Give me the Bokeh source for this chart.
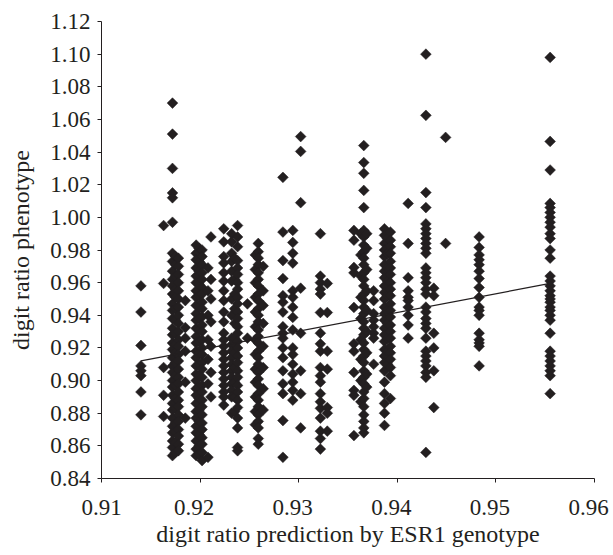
from bokeh.plotting import figure
from bokeh.models import Range1d, FixedTicker, PrintfTickFormatter, LinearAxis
from bokeh.embed import file_html
from bokeh.resources import INLINE
import numpy as np

# ---------------- data ----------------
x_ticks = [0.91, 0.92, 0.93, 0.94, 0.95, 0.96]
y_ticks = [0.84, 0.86, 0.88, 0.90, 0.92, 0.94, 0.96, 0.98, 1.00, 1.02, 1.04, 1.06, 1.08, 1.10, 1.12]

col_09140 = [0.958, 0.942, 0.9215, 0.909, 0.906, 0.903, 0.893, 0.879]
col_09163 = [0.995, 0.9595, 0.908, 0.891, 0.878]
col_09172 = [1.070, 1.051, 1.030, 1.015, 1.012, 0.997, 0.978, 0.973, 0.967, 0.962, 0.958, 0.953,
             0.947, 0.943, 0.938, 0.932, 0.928, 0.923, 0.919, 0.914, 0.909, 0.905, 0.900, 0.896,
             0.891, 0.886, 0.882, 0.877, 0.872, 0.868, 0.863, 0.859, 0.854]
col_09175 = [0.976, 0.971, 0.964, 0.956, 0.951, 0.944, 0.937, 0.929, 0.922, 0.917, 0.911, 0.903,
             0.897, 0.889, 0.883, 0.874, 0.869, 0.862, 0.856]
col_09178 = [0.975, 0.970, 0.965, 0.960, 0.955, 0.950, 0.945, 0.940, 0.935, 0.930, 0.925, 0.921,
             0.916, 0.912, 0.907, 0.902, 0.898, 0.893, 0.888, 0.884, 0.879, 0.875, 0.870, 0.866,
             0.861, 0.857]
col_09185 = [0.949, 0.9325, 0.926, 0.918, 0.899, 0.877]
col_09196 = [0.983, 0.978, 0.974, 0.969, 0.964, 0.960, 0.955, 0.951, 0.946, 0.941, 0.937, 0.932,
             0.927, 0.923, 0.918, 0.914, 0.909, 0.904, 0.900, 0.895, 0.891, 0.886, 0.881, 0.877,
             0.872, 0.868, 0.863, 0.858, 0.854]
col_09199 = [0.981, 0.973, 0.967, 0.959, 0.952, 0.945, 0.938, 0.931, 0.924, 0.917, 0.910, 0.903,
             0.896, 0.889, 0.882, 0.875, 0.867, 0.860, 0.855]
col_09202 = [0.980, 0.976, 0.971, 0.966, 0.962, 0.957, 0.953, 0.948, 0.944, 0.939, 0.934, 0.930,
             0.925, 0.920, 0.916, 0.911, 0.907, 0.902, 0.897, 0.893, 0.888, 0.884, 0.879, 0.874,
             0.870, 0.865, 0.861, 0.856, 0.851]
col_09208 = [0.969, 0.955, 0.940, 0.925, 0.913, 0.898, 0.853]
col_09211 = [0.988, 0.962, 0.950, 0.936, 0.921, 0.905, 0.890]
col_09224 = [0.993, 0.985, 0.976, 0.972, 0.966, 0.961, 0.955, 0.949, 0.942, 0.936, 0.929, 0.925,
             0.921, 0.917, 0.913, 0.909, 0.905, 0.901, 0.897, 0.893, 0.890, 0.885]
col_09232 = [0.990, 0.985, 0.978, 0.973, 0.967, 0.961, 0.950, 0.940, 0.926, 0.922, 0.918, 0.914,
             0.910, 0.906, 0.902, 0.898, 0.894, 0.890, 0.880]
col_09235 = [0.975, 0.962, 0.953, 0.944, 0.935, 0.926, 0.917, 0.908, 0.899, 0.890, 0.881]
col_09238 = [0.995, 0.988, 0.982, 0.9735, 0.969, 0.965, 0.960, 0.956, 0.951, 0.947, 0.942, 0.938,
             0.933, 0.929, 0.924, 0.920, 0.915, 0.911, 0.906, 0.902, 0.897, 0.893, 0.888, 0.8835,
             0.877, 0.871, 0.859, 0.857]
col_09248 = [0.947, 0.926]
col_09256 = [0.977, 0.968, 0.960, 0.951, 0.942, 0.933, 0.925, 0.916, 0.907, 0.899, 0.890, 0.881,
             0.873]
col_09259 = [0.984, 0.979, 0.975, 0.971, 0.966, 0.962, 0.958, 0.953, 0.949, 0.944, 0.940, 0.936,
             0.931, 0.927, 0.923, 0.918, 0.914, 0.910, 0.905, 0.901, 0.897, 0.892, 0.888, 0.884,
             0.879, 0.875, 0.871, 0.8645, 0.861]
col_09264 = [0.970, 0.955, 0.946, 0.935, 0.921, 0.908, 0.895, 0.882]
col_09284 = [1.0245, 0.991, 0.9735, 0.9625, 0.952, 0.948, 0.942, 0.933, 0.929, 0.926, 0.920,
             0.914, 0.906, 0.898, 0.892, 0.8755, 0.853]
col_09294 = [0.992, 0.9846, 0.978, 0.972, 0.955, 0.951, 0.945, 0.9387, 0.931, 0.920, 0.916,
             0.910, 0.904, 0.899, 0.894, 0.888]
col_09302 = [1.0495, 1.0404, 1.009, 0.9566, 0.929, 0.906, 0.892, 0.871]
col_09322 = [0.990, 0.964, 0.960, 0.956, 0.953, 0.9417, 0.929, 0.9225, 0.918, 0.908, 0.903,
             0.899, 0.892, 0.887, 0.883, 0.877, 0.869, 0.8645, 0.858]
col_09329 = [0.9595, 0.9417, 0.918, 0.907, 0.8835, 0.880, 0.869]
col_09356 = [0.992, 0.986, 0.9693, 0.966, 0.9448, 0.9225, 0.918, 0.905, 0.894, 0.891, 0.8663]
col_09363 = [0.990, 0.977, 0.964, 0.951, 0.938, 0.925, 0.913, 0.900, 0.887]
col_09366 = [1.044, 1.0336, 1.027, 1.0165, 1.006, 0.992, 0.988, 0.983, 0.979, 0.975, 0.971,
             0.966, 0.962, 0.958, 0.953, 0.949, 0.945, 0.941, 0.936, 0.932, 0.928, 0.923, 0.919,
             0.915, 0.911, 0.906, 0.902, 0.898, 0.893, 0.889, 0.884, 0.879, 0.875, 0.871, 0.868]
col_09369 = [0.990, 0.981, 0.968, 0.955, 0.943, 0.930, 0.917, 0.904, 0.896]
col_09376 = [0.955, 0.949, 0.941, 0.937, 0.933, 0.929, 0.926, 0.910]
col_09387 = [0.993, 0.989, 0.984, 0.980, 0.976, 0.971, 0.967, 0.963, 0.958, 0.954, 0.950, 0.945,
             0.941, 0.937, 0.932, 0.928, 0.924, 0.919, 0.915, 0.911, 0.906, 0.899, 0.892, 0.886,
             0.880, 0.8725]
col_09390 = [0.987, 0.978, 0.969, 0.961, 0.952, 0.943, 0.935, 0.926, 0.918, 0.910]
col_09393 = [0.991, 0.986, 0.982, 0.978, 0.973, 0.969, 0.965, 0.960, 0.956, 0.952, 0.947, 0.943,
             0.939, 0.934, 0.930, 0.926, 0.921, 0.917, 0.913, 0.908, 0.903, 0.889]
col_09411 = [1.0085, 0.984, 0.963, 0.955, 0.951, 0.949, 0.945, 0.940, 0.934, 0.926]
col_09429 = [1.100, 1.0625, 1.0152, 1.006, 0.996, 0.993, 0.990, 0.987, 0.984, 0.981, 0.978,
             0.969, 0.966, 0.963, 0.960, 0.956, 0.953, 0.945, 0.942, 0.938, 0.935, 0.932, 0.926,
             0.918, 0.915, 0.912, 0.909, 0.905, 0.902, 0.856]
col_09437 = [0.9566, 0.952, 0.929, 0.920, 0.906, 0.8835]
col_09449 = [1.049, 0.984]
col_09483 = [0.988, 0.9816, 0.977, 0.974, 0.971, 0.967, 0.9625, 0.957, 0.951, 0.945, 0.943,
             0.940, 0.929, 0.925, 0.923, 0.921, 0.909]
col_09555 = [1.098, 1.0465, 1.029, 1.0085, 1.006, 1.003, 1.000, 0.997, 0.994, 0.990, 0.987,
             0.980, 0.975, 0.964, 0.961, 0.958, 0.955, 0.952, 0.950, 0.948, 0.945, 0.943, 0.940,
             0.937, 0.929, 0.918, 0.915, 0.912, 0.909, 0.906, 0.903, 0.892]

genotype_x = [0.9140, 0.9163, 0.9172, 0.9175, 0.9178, 0.9185, 0.9196, 0.9199, 0.9202, 0.9208,
              0.9211, 0.9224, 0.9232, 0.9235, 0.9238, 0.9248, 0.9256, 0.9259, 0.9264, 0.9284,
              0.9294, 0.9302, 0.9322, 0.9329, 0.9356, 0.9363, 0.9366, 0.9369, 0.9376, 0.9387,
              0.9390, 0.9393, 0.9411, 0.9429, 0.9437, 0.9449, 0.9483, 0.9555]
phenotype_cols = [col_09140, col_09163, col_09172, col_09175, col_09178, col_09185, col_09196,
                  col_09199, col_09202, col_09208, col_09211, col_09224, col_09232, col_09235,
                  col_09238, col_09248, col_09256, col_09259, col_09264, col_09284, col_09294,
                  col_09302, col_09322, col_09329, col_09356, col_09363, col_09366, col_09369,
                  col_09376, col_09387, col_09390, col_09393, col_09411, col_09429, col_09437,
                  col_09449, col_09483, col_09555]

trend_x = [0.9140, 0.9555]
trend_y = [0.9120, 0.9595]

# ---------------- build ----------------
xs, ys = [], []
for gx, col in zip(genotype_x, phenotype_cols):
    xs.extend([gx] * len(col))
    ys.extend(col)

INK = "#231f20"
FONT = "Liberation Serif"
X0, X1 = 0.91, 0.96

p = figure(width=613, height=555, output_backend="svg", toolbar_location=None,
           x_range=Range1d(X0, X1), y_range=Range1d(0.84, 1.12),
           min_border_left=101, min_border_right=19, min_border_top=21, min_border_bottom=77)
p.outline_line_color = None
p.xgrid.visible = False
p.ygrid.visible = False
p.background_fill_color = "white"
p.border_fill_color = "white"

p.scatter(xs, ys, marker="square", angle=np.pi / 4, size=7.6,
          fill_color=INK, line_color=INK, line_width=0.5)
p.line(trend_x, trend_y, line_color=INK, line_width=1.3)

# y axis
ya = p.yaxis[0]
ya.ticker = FixedTicker(ticks=y_ticks)
ya.formatter = PrintfTickFormatter(format="%.2f")
ya.axis_line_color = INK
ya.major_tick_line_color = INK
ya.major_tick_in = 0
ya.major_tick_out = 4
ya.minor_tick_line_color = None
ya.major_label_text_font = FONT
ya.major_label_text_font_size = "23px"
ya.major_label_text_color = INK
ya.major_label_standoff = 7
ya.axis_label = "digit ratio phenotype"
ya.axis_label_text_font = FONT
ya.axis_label_text_font_size = "24px"
ya.axis_label_text_font_style = "normal"
ya.axis_label_text_color = INK
ya.axis_label_standoff = 13

# x axis: line + ticks only
xa = p.xaxis[0]
xa.ticker = FixedTicker(ticks=x_ticks)
xa.axis_line_color = INK
xa.major_tick_line_color = INK
xa.major_tick_in = 0
xa.major_tick_out = 4
xa.minor_tick_line_color = None
xa.major_label_text_font_size = "0px"
xa.major_label_text_color = None
xa.major_label_standoff = 0

# x labels: second axis whose range is shifted so labels sit ~6px left of ticks (as in the reference)
shift = 6.0 / 493.0 * (X1 - X0)
label_ticks = [max(t, X0 + shift + 1e-9) for t in x_ticks]
p.extra_x_ranges = {"labels": Range1d(X0 + shift, X1 + shift)}
la = LinearAxis(x_range_name="labels", ticker=FixedTicker(ticks=label_ticks),
                formatter=PrintfTickFormatter(format="%.2f"))
la.axis_line_color = None
la.major_tick_line_color = None
la.major_tick_in = 0
la.major_tick_out = 0
la.minor_tick_line_color = None
la.major_label_text_font = FONT
la.major_label_text_font_size = "23px"
la.major_label_text_color = INK
la.major_label_standoff = 17
la.axis_label = "digit ratio prediction by ESR1 genotype"
la.axis_label_text_font = FONT
la.axis_label_text_font_size = "24px"
la.axis_label_text_font_style = "normal"
la.axis_label_text_color = INK
la.axis_label_standoff = 3
p.add_layout(la, "below")

open("out.html", "w").write(file_html(p, INLINE))
